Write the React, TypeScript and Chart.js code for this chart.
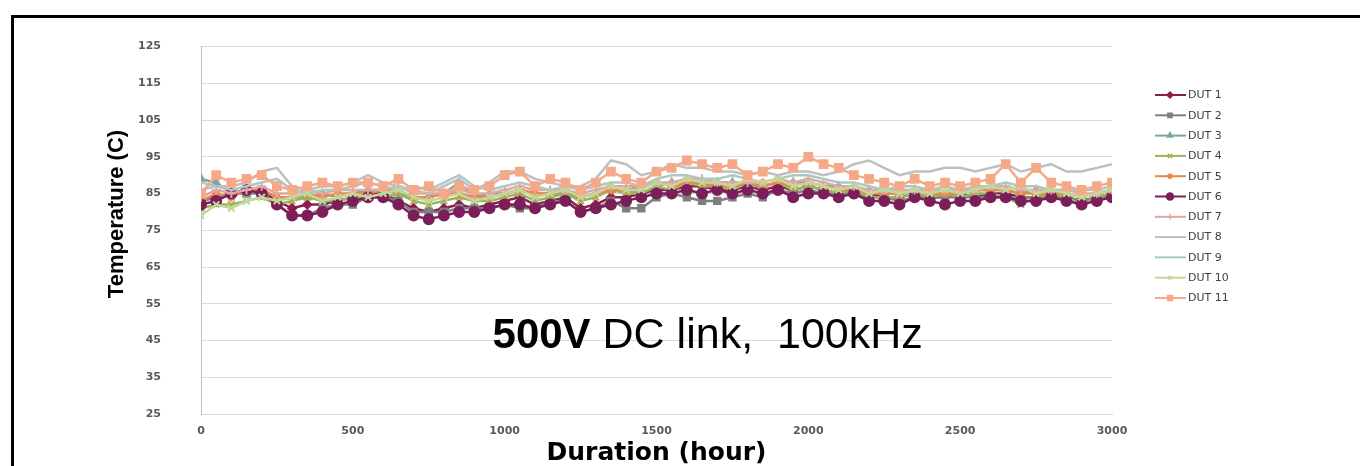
import React, { useEffect, useRef } from 'react';
import { Chart, registerables } from 'chart.js';
import { drawPoint } from 'chart.js/helpers';

Chart.register(...registerables);

const hours = [0, 50, 100, 150, 200, 250, 300, 350, 400, 450, 500, 550, 600, 650, 700, 750, 800, 850, 900, 950, 1000, 1050, 1100, 1150, 1200, 1250, 1300, 1350, 1400, 1450, 1500, 1550, 1600, 1650, 1700, 1750, 1800, 1850, 1900, 1950, 2000, 2050, 2100, 2150, 2200, 2250, 2300, 2350, 2400, 2450, 2500, 2550, 2600, 2650, 2700, 2750, 2800, 2850, 2900, 2950, 3000];

const dut1 = [83, 84, 85, 86, 86, 83, 81, 82, 82, 83, 84, 85, 85, 83, 81, 80, 81, 82, 81, 82, 83, 84, 82, 83, 84, 81, 82, 84, 84, 85, 86, 86, 87, 87, 86, 86, 87, 86, 87, 86, 87, 86, 85, 86, 85, 84, 84, 85, 84, 84, 85, 84, 85, 85, 84, 84, 85, 84, 83, 84, 85];
const dut2 = [83, 84, 85, 85, 85, 82, 79, 79, 81, 82, 82, 84, 84, 83, 80, 80, 80, 81, 81, 81, 82, 81, 81, 83, 83, 80, 81, 83, 81, 81, 84, 85, 84, 83, 83, 84, 85, 84, 86, 85, 86, 85, 85, 85, 84, 84, 83, 84, 84, 84, 84, 84, 84, 84, 84, 84, 84, 84, 83, 84, 84];
const dut3 = [89, 88, 85, 85, 86, 84, 84, 84, 85, 84, 85, 86, 86, 85, 84, 84, 85, 88, 84, 85, 85, 86, 85, 85, 85, 84, 85, 86, 86, 85, 87, 88, 88, 88, 88, 88, 87, 87, 88, 88, 88, 87, 87, 86, 86, 85, 85, 86, 85, 85, 85, 86, 86, 86, 85, 86, 85, 85, 84, 85, 86];
const dut4 = [81, 82, 82, 83, 84, 82, 83, 84, 83, 83, 84, 84, 84, 85, 83, 82, 83, 84, 83, 83, 84, 85, 83, 84, 85, 83, 84, 86, 85, 85, 87, 86, 88, 87, 87, 86, 88, 87, 88, 86, 87, 86, 85, 86, 84, 84, 84, 85, 84, 85, 84, 85, 85, 84, 82, 84, 85, 84, 82, 84, 85];
const dut5 = [83, 85, 84, 86, 86, 84, 84, 85, 84, 85, 85, 85, 86, 86, 84, 84, 85, 85, 84, 84, 85, 86, 85, 85, 86, 84, 85, 86, 86, 87, 88, 87, 88, 88, 87, 87, 88, 87, 88, 87, 88, 87, 86, 86, 85, 85, 85, 86, 85, 85, 85, 86, 86, 86, 85, 85, 85, 85, 84, 85, 86];
const dut6 = [82, 83, 85, 86, 85, 82, 79, 79, 80, 82, 83, 84, 84, 82, 79, 78, 79, 80, 80, 81, 82, 82, 81, 82, 83, 80, 81, 82, 83, 84, 85, 85, 86, 85, 86, 85, 86, 85, 86, 84, 85, 85, 84, 85, 83, 83, 82, 84, 83, 82, 83, 83, 84, 84, 83, 83, 84, 83, 82, 83, 84];
const dut7 = [84, 86, 85, 86, 87, 85, 85, 86, 85, 86, 86, 86, 86, 87, 85, 85, 85, 86, 85, 85, 86, 87, 86, 86, 86, 85, 86, 87, 87, 87, 88, 88, 89, 89, 88, 88, 88, 88, 89, 88, 89, 88, 87, 87, 86, 86, 86, 86, 86, 86, 86, 86, 87, 87, 86, 86, 86, 86, 85, 85, 86];
const dut8 = [86, 87, 87, 88, 91, 92, 87, 86, 87, 87, 88, 90, 88, 87, 86, 85, 87, 89, 86, 88, 91, 91, 89, 88, 87, 87, 89, 94, 93, 90, 91, 93, 92, 92, 91, 91, 90, 91, 90, 91, 91, 90, 91, 93, 94, 92, 90, 91, 91, 92, 92, 91, 92, 93, 91, 92, 93, 91, 91, 92, 93];
const dut9 = [88, 87, 86, 87, 88, 89, 86, 85, 86, 86, 87, 88, 87, 86, 87, 86, 88, 90, 87, 86, 87, 88, 87, 86, 87, 86, 87, 88, 88, 87, 89, 90, 90, 89, 89, 90, 89, 88, 89, 90, 90, 89, 88, 88, 87, 86, 87, 87, 86, 87, 86, 87, 87, 88, 87, 87, 86, 86, 86, 86, 87];
const dut10 = [79, 82, 81, 83, 84, 83, 84, 85, 83, 84, 85, 84, 85, 86, 84, 83, 84, 85, 83, 84, 85, 86, 84, 85, 86, 84, 85, 87, 86, 86, 88, 87, 89, 88, 88, 87, 89, 88, 89, 87, 88, 87, 86, 87, 85, 86, 85, 86, 85, 86, 85, 86, 87, 86, 87, 85, 86, 85, 84, 85, 86];
const dut11 = [85, 90, 88, 89, 90, 87, 86, 87, 88, 87, 88, 88, 87, 89, 86, 87, 85, 87, 86, 87, 90, 91, 87, 89, 88, 86, 88, 91, 89, 88, 91, 92, 94, 93, 92, 93, 90, 91, 93, 92, 95, 93, 92, 90, 89, 88, 87, 89, 87, 88, 87, 88, 89, 93, 88, 92, 88, 87, 86, 87, 88];

const seriesNames = ['DUT 1', 'DUT 2', 'DUT 3', 'DUT 4', 'DUT 5', 'DUT 6', 'DUT 7', 'DUT 8', 'DUT 9', 'DUT 10', 'DUT 11'];
const seriesValues = [dut1, dut2, dut3, dut4, dut5, dut6, dut7, dut8, dut9, dut10, dut11];
const seriesColors = ['#8E1D4E', '#7F7F7F', '#7BA79D', '#9BB45A', '#E8894A', '#7B1E5A', '#E6A3A3', '#BFBFBF', '#A9C9C5', '#C3D79B', '#F5A988'];
const seriesMarkers = ['rectRot', 'rect', 'triangle', 'crossRot', 'star', 'circle', 'cross', false, false, 'crossRot', 'rect'];
const markerSizes = [4, 4.5, 4, 4.5, 4.5, 5, 4.5, 0, 0, 4.5, 5.5];
const legendMarkerSizes = [3, 3, 3, 3, 3, 3.5, 3, 0, 0, 2.5, 3.5];

const yTicksMin = 25;
const yTicksMax = 125;
const xTicksMax = 3000;
const yTitle = 'Temperature (C)';
const annotationBold = '500V';
const annotationRest = ' DC link,  100kHz';

const legendPlugin = {
  id: 'customLegend',
  afterDraw(chart: any) {
    const ctx = chart.ctx;
    ctx.save();
    chart.data.datasets.forEach((ds: any, i: number) => {
      const y = 95 + i * 20.3;
      ctx.strokeStyle = ds.borderColor;
      ctx.lineWidth = 2;
      ctx.beginPath();
      ctx.moveTo(1155, y);
      ctx.lineTo(1186, y);
      ctx.stroke();
      if (ds.pointStyle) {
        ctx.fillStyle = ds.pointBackgroundColor;
        ctx.strokeStyle = ds.pointBorderColor;
        ctx.lineWidth = 1.5;
        drawPoint(ctx, { pointStyle: ds.pointStyle, rotation: 0, borderWidth: 1.5, radius: legendMarkerSizes[i] } as any, 1170, y);
      }
      ctx.fillStyle = '#404040';
      ctx.font = '11px "DejaVu Sans"';
      ctx.textBaseline = 'middle';
      ctx.textAlign = 'left';
      ctx.fillText(ds.label, 1188, y + 0.5);
    });
    ctx.restore();
  },
};

const textPlugin = {
  id: 'annotationText',
  afterDatasetsDraw(chart: any) {
    const ctx = chart.ctx;
    const xs = chart.scales.x;
    const ys = chart.scales.y;
    const x = xs.getPixelForValue(960);
    const y = ys.getPixelForValue(43);
    ctx.save();
    ctx.fillStyle = '#000';
    ctx.textBaseline = 'alphabetic';
    ctx.textAlign = 'left';
    ctx.font = 'bold 42px "Liberation Sans"';
    ctx.fillText(annotationBold, x, y);
    const w = ctx.measureText(annotationBold).width;
    ctx.font = '43px "Liberation Sans"';
    ctx.fillText(annotationRest, x + w, y);
    ctx.translate(117, 214);
    ctx.rotate(-Math.PI / 2);
    ctx.font = 'bold 22px "Liberation Sans"';
    ctx.textAlign = 'center';
    ctx.textBaseline = 'middle';
    ctx.fillText(yTitle, 0, 0);
    ctx.restore();
  },
};

export default function App() {
  const ref = useRef<HTMLCanvasElement>(null);
  useEffect(() => {
    document.body.style.margin = '0';
    const datasets = seriesNames.map((name, i) => ({
      label: name,
      data: hours.map((h, j) => ({ x: h, y: seriesValues[i][j] })),
      borderColor: seriesColors[i],
      backgroundColor: seriesColors[i],
      pointBackgroundColor: seriesColors[i],
      pointBorderColor: seriesColors[i],
      pointStyle: seriesMarkers[i] as any,
      pointRadius: markerSizes[i],
      pointBorderWidth: 2,
      borderWidth: 2.5,
      tension: 0,
      order: 11 - i,
    }));
    const chart = new Chart(ref.current as HTMLCanvasElement, {
      type: 'line',
      data: { datasets },
      plugins: [legendPlugin, textPlugin],
      options: {
        animation: false,
        responsive: false,
        layout: { padding: { left: 95, top: 33, right: 248, bottom: 0 } },
        plugins: { legend: { display: false }, tooltip: { enabled: false } },
        scales: {
          x: {
            type: 'linear',
            min: 0,
            max: xTicksMax,
            ticks: {
              stepSize: 500,
              color: '#595959',
              font: { family: 'DejaVu Sans', size: 11, weight: 'bold' },
              padding: 11,
              callback: (v: any) => String(v),
            },
            grid: { display: false, drawTicks: false },
            border: { display: true, color: '#D9D9D9' },
            title: {
              display: true,
              text: 'Duration (hour)',
              color: '#000',
              font: { family: 'DejaVu Sans', size: 25, weight: 'bold', lineHeight: 1 },
              padding: 0,
            },
            afterFit(scale: any) {
              scale.height = 52;
            },
          },
          y: {
            type: 'linear',
            min: yTicksMin,
            max: yTicksMax,
            ticks: {
              stepSize: 10,
              color: '#595959',
              font: { family: 'DejaVu Sans', size: 11, weight: 'bold' },
              padding: 40,
            },
            grid: { color: '#D9D9D9', drawTicks: false },
            border: { display: true, color: '#BFBFBF' },
            title: { display: false },
            afterFit(scale: any) {
              scale.width = 106;
            },
          },
        },
      },
    });
    return () => chart.destroy();
  }, []);
  return (
    <div style={{ position: 'fixed', left: 0, top: 0, width: 1360, height: 466, overflow: 'hidden', background: '#fff' }}>
      <div
        style={{
          position: 'absolute',
          left: 11,
          top: 15,
          width: 1400,
          height: 500,
          borderTop: '3px solid #000',
          borderLeft: '3px solid #000',
        }}
      />
      <canvas ref={ref} width={1360} height={466} style={{ position: 'absolute', left: 0, top: 0, width: 1360, height: 466 }} />
    </div>
  );
}
